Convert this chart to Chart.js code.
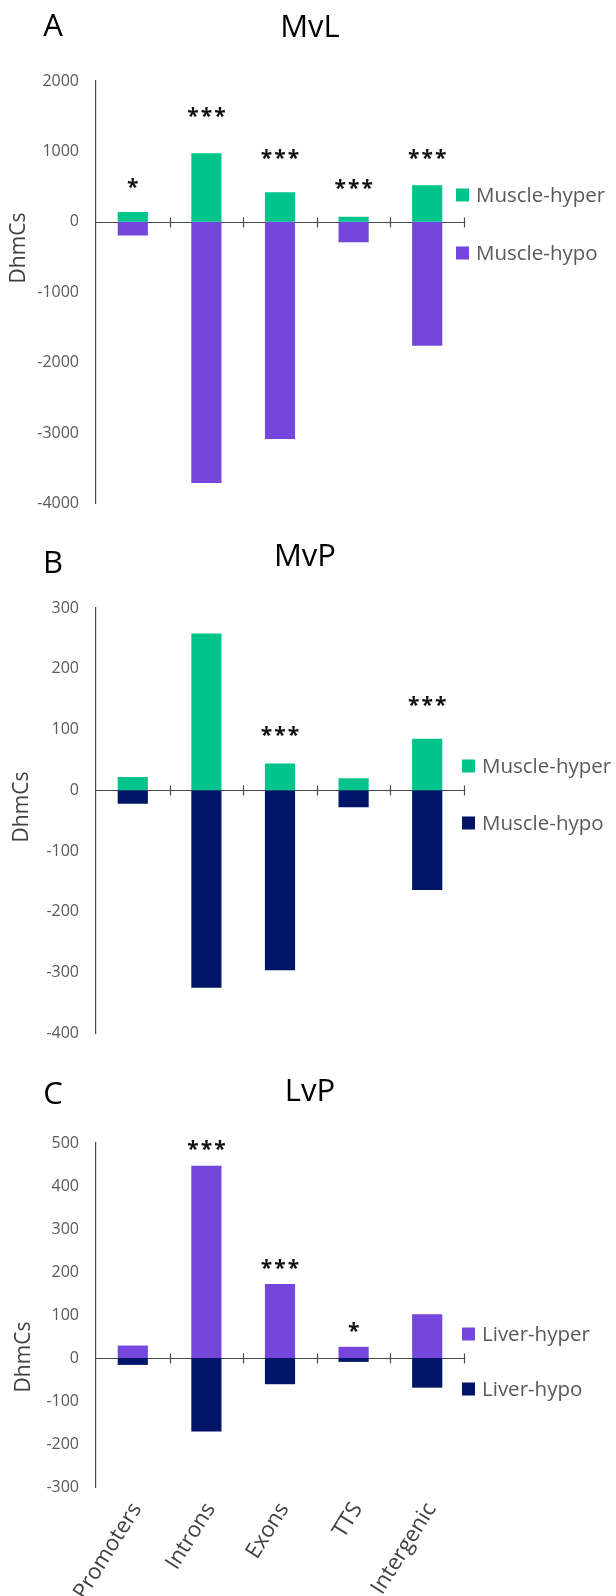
<!DOCTYPE html>
<html><head><meta charset="utf-8">
<script src="https://cdn.jsdelivr.net/npm/chart.js@4.4.0/dist/chart.umd.min.js"></script>
<style>
html,body{margin:0;padding:0;background:#fff;}
#wrap{position:relative;width:616px;height:1596px;overflow:hidden;}
canvas{position:absolute;left:0;}
</style></head><body>
<div id="wrap">
<canvas id="cA" width="616" height="530" style="top:0px"></canvas>
<canvas id="cB" width="616" height="530" style="top:530px"></canvas>
<canvas id="cC" width="616" height="536" style="top:1060px"></canvas>
</div>
<script>
// ---- data ----
const categories = ['Promoters', 'Introns', 'Exons', 'TTS', 'Intergenic'];

const mvlHyper = [140, 975, 420, 70, 520];
const mvlHypo  = [-195, -3710, -3085, -292, -1760];
const mvpHyper = [22, 258, 44, 20, 85];
const mvpHypo  = [-22, -325, -296, -28, -164];
const lvpHyper = [29, 447, 172, 26, 102];
const lvpHypo  = [-16, -171, -61, -9, -69];

const mvlStars   = ['*', '***', '***', '***', '***'];
const mvlStarAt  = [580, 1584, 985, 553, 985];
const mvpStars   = ['', '', '***', '', '***'];
const mvpStarAt  = [0, 0, 100, 0, 150];
const lvpStars   = ['', '***', '***', '*', ''];
const lvpStarAt  = [0, 500, 223, 76, 0];

const mvlTicks = [-4000, 2000, 1000];
const mvpTicks = [-400, 300, 100];
const lvpTicks = [-300, 500, 100];

const muscleNames = ['Muscle-hyper', 'Muscle-hypo'];
const liverNames  = ['Liver-hyper', 'Liver-hypo'];

// ---- style ----
const FONT = "'Open Sans', sans-serif";
const GREEN = '#00C48C', PURPLE = '#7446DC', NAVY = '#001468';
const AXIS = '#4a4a4a';

function panelPlugin(cfg) {
  return {
    id: 'panel' + cfg.letter,
    beforeDatasetsDraw(chart) {
      const ctx = chart.ctx, xs = chart.scales.x, ys = chart.scales.y, ca = chart.chartArea;
      const y0 = Math.round(ys.getPixelForValue(0)) + 0.5;
      ctx.save();
      ctx.strokeStyle = AXIS; ctx.lineWidth = 1.2;
      ctx.beginPath(); ctx.moveTo(ca.left, y0); ctx.lineTo(ca.right, y0); ctx.stroke();
      for (let i = 1; i <= categories.length; i++) {
        const x = Math.round(xs.getPixelForValue(i - 0.5)) + 0.5;
        ctx.beginPath(); ctx.moveTo(x, y0 - 5); ctx.lineTo(x, y0 + 5); ctx.stroke();
      }
      ctx.restore();
    },
    afterDraw(chart) {
      const ctx = chart.ctx, xs = chart.scales.x, ys = chart.scales.y;
      ctx.save();
      // panel letter + title
      ctx.fillStyle = '#000'; ctx.textAlign = 'center'; ctx.textBaseline = 'alphabetic';
      ctx.font = '31px ' + FONT;
      ctx.fillText(cfg.letter, cfg.letterPos[0], cfg.letterPos[1] + 0.357 * 31);
      ctx.fillText(cfg.title, cfg.titlePos[0], cfg.titlePos[1] + 0.357 * 31);
      // y title
      ctx.save();
      ctx.font = '21px ' + FONT; ctx.fillStyle = '#404040';
      ctx.translate(cfg.yTitlePos[0] + 0.357 * 21, cfg.yTitlePos[1]);
      ctx.rotate(-Math.PI / 2);
      ctx.fillText('DhmCs', 0, 0);
      ctx.restore();
      // legend
      ctx.font = '20.5px ' + FONT; ctx.textAlign = 'left';
      chart.data.datasets.forEach((ds, k) => {
        const yc = cfg.legendRows[k];
        ctx.fillStyle = ds.backgroundColor;
        ctx.fillRect(cfg.legendX, yc - 6.5, 13, 13);
        ctx.fillStyle = '#595959';
        ctx.fillText(ds.label, cfg.legendX + 20, yc + 0.357 * 20.5);
      });
      // significance stars
      ctx.fillStyle = '#111'; ctx.textAlign = 'center';
      ctx.font = 'bold 21px ' + FONT;
      cfg.stars.forEach((s, i) => {
        if (!s) return;
        const xc = xs.getPixelForValue(i), yc = ys.getPixelForValue(cfg.starAt[i]);
        const n = s.length, pitch = 13.5;
        for (let j = 0; j < n; j++) {
          ctx.fillText('*', xc + (j - (n - 1) / 2) * pitch, yc + 0.6 * 21);
        }
      });
      ctx.restore();
    }
  };
}

function makeChart(id, cfg) {
  return new Chart(document.getElementById(id), {
    type: 'bar',
    data: {
      labels: categories,
      datasets: [
        { label: cfg.names[0], data: cfg.hyper, backgroundColor: cfg.colors[0] },
        { label: cfg.names[1], data: cfg.hypo, backgroundColor: cfg.colors[1] }
      ]
    },
    options: {
      responsive: false, animation: false, devicePixelRatio: 1,
      layout: { padding: { left: 0, right: 152, top: cfg.padTop, bottom: 0 } },
      datasets: { bar: { categoryPercentage: 1, barPercentage: 0.41, borderWidth: 0 } },
      plugins: { legend: { display: false }, tooltip: { enabled: false }, title: { display: false } },
      scales: {
        x: {
          stacked: true,
          grid: { display: false, drawTicks: false },
          border: { display: false },
          ticks: { display: cfg.showX, minRotation: 58, maxRotation: 58, autoSkip: false,
                   color: '#404040', font: { family: FONT, size: 22 }, padding: 11, labelOffset: 4 },
          afterFit: s => { s.height = cfg.xHeight; }
        },
        y: {
          stacked: true, min: cfg.ticks[0], max: cfg.ticks[1],
          grid: { display: false, drawTicks: false },
          border: { display: true, color: AXIS, width: 1.2 },
          ticks: { stepSize: cfg.ticks[2], color: '#595959', font: { family: FONT, size: 16 }, padding: 17,
                   callback: v => String(v) },
          afterFit: s => { s.width = 96; }
        }
      }
    },
    plugins: [panelPlugin(cfg)]
  });
}

makeChart('cA', {
  letter: 'A', title: 'MvL', names: muscleNames, colors: [GREEN, PURPLE],
  hyper: mvlHyper, hypo: mvlHypo, stars: mvlStars, starAt: mvlStarAt, ticks: mvlTicks,
  padTop: 81, xHeight: 18, showX: false,
  letterPos: [53, 25], titlePos: [310, 26], yTitlePos: [18, 248],
  legendX: 456, legendRows: [195, 253]
});
makeChart('cB', {
  letter: 'B', title: 'MvP', names: muscleNames, colors: [GREEN, NAVY],
  hyper: mvpHyper, hypo: mvpHypo, stars: mvpStars, starAt: mvpStarAt, ticks: mvpTicks,
  padTop: 78, xHeight: 17, showX: false,
  letterPos: [53, 32], titlePos: [305, 25], yTitlePos: [21, 277],
  legendX: 462, legendRows: [236, 293]
});
makeChart('cC', {
  letter: 'C', title: 'LvP', names: liverNames, colors: [PURPLE, NAVY],
  hyper: lvpHyper, hypo: lvpHypo, stars: lvpStars, starAt: lvpStarAt, ticks: lvpTicks,
  padTop: 83, xHeight: 109, showX: true,
  letterPos: [53, 33], titlePos: [310, 30], yTitlePos: [23, 297],
  legendX: 462, legendRows: [274, 329]
});
</script>
</body></html>
